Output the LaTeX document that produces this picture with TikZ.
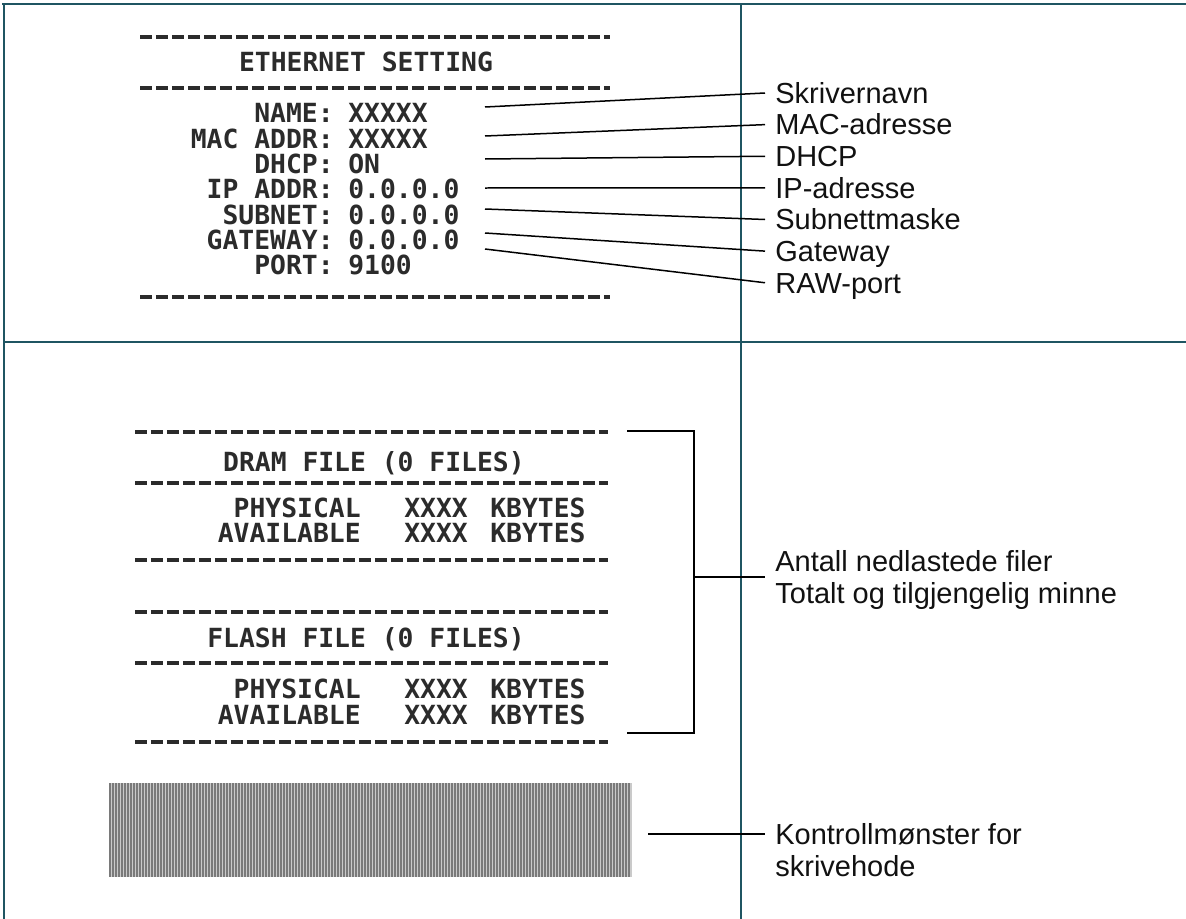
\documentclass[tikz,border=0pt]{standalone}
\usepackage{fontspec}
\setmainfont{Liberation Sans}
\newfontfamily\receiptfont{DejaVu Sans Mono}
\usetikzlibrary{positioning}
\definecolor{frame}{HTML}{1F5562}
\definecolor{ink}{HTML}{111111}
\definecolor{print}{HTML}{2B2B2B}
\definecolor{pin}{HTML}{7A7A7A}
\tikzset{
  frameline/.style={draw=frame,line width=0.05cm},
  dashrule/.style={draw=print,line width=0.065cm,dash pattern=on 0.25cm off 0.07cm},
  printtext/.style={inner sep=0pt,text=print,font=\receiptfont\bfseries\fontsize{15}{18}\selectfont,text height=10.9pt,text depth=0pt},
  callout/.style={inner xsep=0.2cm,inner ysep=0pt,text=ink,font=\fontsize{16.5}{18}\selectfont,text height=11.8pt,text depth=0pt,anchor=west},
  callbox/.style={inner xsep=0.2cm,inner ysep=0pt,text=ink,font=\fontsize{16.5}{18}\selectfont,align=left,anchor=west},
  lead/.style={draw=black,line width=0.03cm},
  pinline/.style={draw=pin,line width=0.028cm}
}

\begin{document}
\begin{tikzpicture}[x=0.02cm,y=-0.02cm]
  \useasboundingbox (0,0) rectangle (1186,919);
  % table frame
  \draw[frameline] (2,4) -- (1186,4);
  \draw[frameline] (4,4) -- (4,919);
  \draw[frameline] (741,4) -- (741,919);
  \draw[frameline] (4,342) -- (1186,342);

  % ethernet printout
  \foreach \y in {37,88,297} \draw[dashrule] (140,\y) -- (610,\y);
  \node[printtext] (ethtitle) at (366,62) {ETHERNET SETTING};
  \foreach \k/\v [count=\i] in {NAME/XXXXX, MAC ADDR/XXXXX, DHCP/ON, IP ADDR/0.0.0.0, SUBNET/0.0.0.0, GATEWAY/0.0.0.0, PORT/9100}
  {
    \node[printtext,anchor=east] (key\i) at (334,88+25.3*\i) {\k:};
    \node[printtext,anchor=west] (val\i) at (348,88+25.3*\i) {\v};
  }

  \node[callout] (lbl1) at (765,93) {Skrivernavn};
  \node[callout,below=5.8pt of lbl1.south west,anchor=north west] (lbl2) {MAC-adresse};
  \node[callout,below=5.8pt of lbl2.south west,anchor=north west] (lbl3) {DHCP};
  \node[callout,below=5.8pt of lbl3.south west,anchor=north west] (lbl4) {IP-adresse};
  \node[callout,below=5.8pt of lbl4.south west,anchor=north west] (lbl5) {Subnettmaske};
  \node[callout,below=5.8pt of lbl5.south west,anchor=north west] (lbl6) {Gateway};
  \node[callout,below=5.8pt of lbl6.south west,anchor=north west] (lbl7) {RAW-port};

  \foreach \y [count=\i] in {107,136,159,188,209,233,249}
  {
    \coordinate (tip\i) at (485,\y);
    \draw[lead] (tip\i) -- (lbl\i.west);
  }

  % file printout
  \foreach \y in {432,483,560,612,663,742} \draw[dashrule] (135,\y) -- (608,\y);
  \node[printtext,anchor=east] (dramtitle) at (525,462) {DRAM FILE (0 FILES)};
  \node[printtext,anchor=east] (flashtitle) at (525,638) {FLASH FILE (0 FILES)};
  \foreach \y/\k in {508/PHYSICAL, 533/AVAILABLE, 689/PHYSICAL, 715/AVAILABLE}
  {
    \node[printtext,anchor=east] (mem\y) at (361,\y) {\k};
    \node[printtext,anchor=west] (size\y) at (404,\y) {XXXX};
    \node[printtext,anchor=west] (unit\y) at (490,\y) {KBYTES};
  }

  \coordinate (brtop) at (627,431);
  \coordinate (brbot) at (627,733);
  \coordinate (brmid) at (694,577);
  \draw[lead] (brtop) -| (brmid) |- (brbot);
  \node[callbox] (filelbl) at (765,580) {Antall nedlastede filer\\Totalt og tilgjengelig minne};
  \draw[lead] (brmid) -- (brmid -| filelbl.west);

  % print head test pattern
  \fill[pin!40] (110,783) rectangle (632,877);
  \foreach \i in {0,...,173} \draw[pinline] (110+3*\i,783) -- (110+3*\i,877);
  \coordinate (pattip) at (648,834);
  \node[callbox] (headlbl) at (765,850) {Kontrollmønster for\\skrivehode};
  \draw[lead] (pattip) -- (pattip -| headlbl.west);
\end{tikzpicture}
\end{document}
